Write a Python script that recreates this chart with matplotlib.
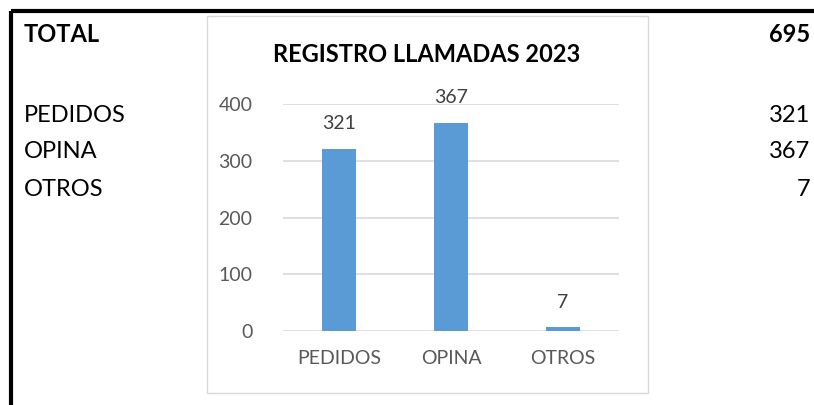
import matplotlib.pyplot as plt
import matplotlib.patches as mpatches
import numpy as np

categories = ['PEDIDOS', 'OPINA', 'OTROS']
values = [321, 367, 7]
total = 695
yticks = [0, 100, 200, 300, 400]

W, H = 814, 405
fig = plt.figure(figsize=(W / 100, H / 100), dpi=100)
plt.rcParams['font.family'] = ['Lato', 'DejaVu Sans']

# sheet background: cells, borders and text, in pixel units
bg = fig.add_axes([0, 0, 1, 1])
bg.set_xlim(0, W)
bg.set_ylim(H, 0)
bg.axis('off')
bg.plot([11, W], [11, 11], color='black', lw=3, solid_capstyle='butt')
bg.plot([11, 11], [11, H], color='black', lw=3, solid_capstyle='butt')
bg.add_patch(mpatches.Rectangle((207, 16), 441, 377, fill=False,
                                edgecolor='#d9d9d9', lw=1.0))

rows_y = [115, 152, 189]
bg.text(24, 34, 'TOTAL', fontsize=17, fontweight='bold', va='center', ha='left')
bg.text(810, 34, str(total), fontsize=17, fontweight='bold', va='center', ha='right')
for cat, val, y in zip(categories, values, rows_y):
    bg.text(24, y, cat, fontsize=17, va='center', ha='left')
    bg.text(810, y, str(val), fontsize=17, va='center', ha='right')

bg.text(427, 55, 'REGISTRO LLAMADAS 2023', fontsize=17, fontweight='bold',
        va='center', ha='center', color='#000000')

# chart
ax = fig.add_axes([283 / W, 1 - 331 / H, 336 / W, 227 / H])
x = np.arange(len(categories))
bars = ax.bar(x, values, width=0.31, color='#5b9bd5', zorder=3)
ax.set_xlim(-0.5, len(categories) - 0.5)
ax.set_ylim(0, 400)
ax.set_yticks(yticks)
ax.set_xticks(x)
ax.set_xticklabels(categories)
ax.grid(axis='y', color='#d9d9d9', lw=1.2, zorder=0)
for s in ax.spines.values():
    s.set_visible(False)
ax.tick_params(axis='both', length=0, labelsize=14, colors='#595959')
ax.tick_params(axis='y', pad=22)
ax.tick_params(axis='x', pad=14)
ax.set_facecolor('none')

for xi, v in zip(x, values):
    ax.annotate(str(v), (xi, v), xytext=(0, 18), textcoords='offset points',
                ha='center', va='center', fontsize=14, color='#404040')

fig.savefig('out.png', dpi=100)
